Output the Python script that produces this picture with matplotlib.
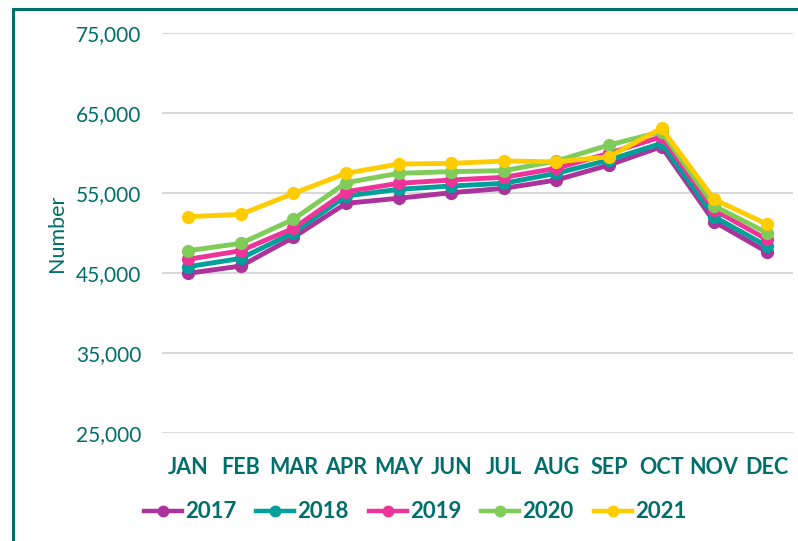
import matplotlib
matplotlib.use("Agg")
import matplotlib.pyplot as plt
from matplotlib.lines import Line2D
from matplotlib.ticker import FuncFormatter

# Data
months = ["JAN", "FEB", "MAR", "APR", "MAY", "JUN", "JUL", "AUG", "SEP", "OCT", "NOV", "DEC"]
years = ["2017", "2018", "2019", "2020", "2021"]

y2017 = [44960, 45875, 49460, 53710, 54340, 55040, 55580, 56625, 58500, 60790, 51415, 47660]
y2018 = [45790, 46830, 50040, 54625, 55460, 55875, 56210, 57460, 59125, 61210, 52040, 48375]
y2019 = [46710, 47790, 50590, 55160, 56210, 56625, 56960, 58080, 59960, 62040, 52875, 49210]
y2020 = [47790, 48710, 51710, 56290, 57460, 57670, 57790, 59000, 61000, 62660, 53375, 50040]
y2021 = [52040, 52330, 54960, 57460, 58625, 58700, 59000, 58900, 59540, 63080, 54210, 51125]

series = [y2017, y2018, y2019, y2020, y2021]
colors = ["#AC329C", "#00A09A", "#EE3399", "#80CC58", "#FFCC00"]
text_col = "#006E6A"

plt.rcParams["font.family"] = ["Lato", "DejaVu Sans"]

fig = plt.figure(figsize=(7.98, 5.41), dpi=100)
ax = fig.add_axes([162 / 798, 1 - 433 / 541, 631 / 798, 400 / 541])

x = list(range(len(months)))
for vals, col, yr in zip(series, colors, years):
    ax.plot(x, vals, color=col, lw=3.5, marker="o", markersize=8.5, label=yr,
            solid_joinstyle="round", zorder=3)

ax.set_xlim(-0.5, 11.5)
ax.set_ylim(25000, 75000)
ax.set_yticks([25000, 35000, 45000, 55000, 65000, 75000])
ax.yaxis.set_major_formatter(FuncFormatter(lambda v, p: f"{int(v):,}"))
ax.set_xticks(x)
ax.set_xticklabels(months, fontweight="bold")
ax.grid(axis="y", color="#D9D9D9", lw=1.5, zorder=0)
ax.set_axisbelow(True)
for s in ax.spines.values():
    s.set_visible(False)
ax.tick_params(axis="both", length=0, colors=text_col)
ax.tick_params(axis="y", pad=15, labelsize=15)
ax.tick_params(axis="x", pad=17, labelsize=15.5)
ax.set_ylabel("Number", color=text_col, fontsize=15.5, labelpad=6)

leg = fig.legend(loc="center", bbox_to_anchor=(415 / 798, 1 - 512 / 541), ncol=5, frameon=False,
                 fontsize=16, handlelength=1.7, columnspacing=0.9, handletextpad=0.15,
                 borderaxespad=0)
for t in leg.get_texts():
    t.set_color(text_col)
    t.set_fontweight("bold")
for h in leg.legend_handles:
    h.set_linewidth(3.2)
    h.set_markersize(7.5)

# teal frame around the chart (top and left edges visible)
fig.add_artist(Line2D([13 / 798, 13 / 798], [0, 1 - 9 / 541], color="#00706B", lw=2.2,
                      transform=fig.transFigure))
fig.add_artist(Line2D([13 / 798, 1], [1 - 9 / 541, 1 - 9 / 541], color="#00706B", lw=2.2,
                      transform=fig.transFigure))

fig.savefig("out.png", dpi=100)
